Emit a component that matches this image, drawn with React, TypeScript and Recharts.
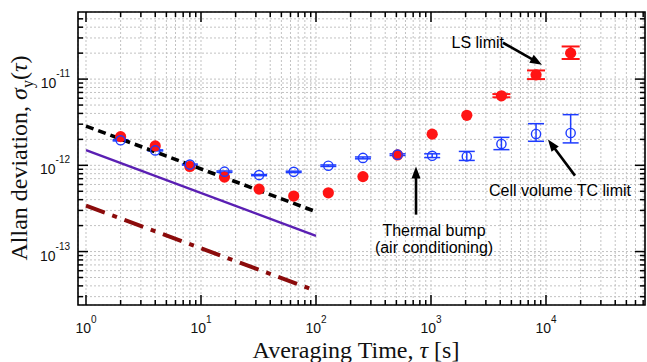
import React from "react";
import {
  ScatterChart,
  Scatter,
  XAxis,
  YAxis,
  CartesianGrid,
  ErrorBar,
  ReferenceArea,
  ReferenceLine,
} from "recharts";

// averaging times of the measured points
const TAU = [2, 4, 8, 16, 32, 64, 128, 256, 512, 1024, 2048, 4096, 8192, 16384];

// filled red circles
const RED = [
  2.15e-12, 1.68e-12, 0.97e-12, 7.3e-13, 5.3e-13, 4.4e-13, 4.8e-13,
  7.4e-13, 1.32e-12, 2.3e-12, 3.8e-12, 6.4e-12, 1.12e-11, 2.0e-11,
];
// null = error bar hidden inside the marker
const RED_ERR: ([number, number] | null)[] = [
  null, null, null, null, null, null, null,
  null, null, null, null, [0.25e-12, 0.3e-12], [1.2e-12, 1.4e-12], [2.9e-12, 3.9e-12],
];

// open blue circles
const BLUE = [
  1.95e-12, 1.49e-12, 1.02e-12, 8.45e-13, 7.7e-13, 8.4e-13, 9.9e-13,
  1.22e-12, 1.33e-12, 1.29e-12, 1.27e-12, 1.77e-12, 2.31e-12, 2.37e-12,
];
const BLUE_ERR: [number, number][] = [
  [0.03e-12, 0.03e-12], [0.02e-12, 0.02e-12], [0.015e-12, 0.015e-12], [0.015e-12, 0.015e-12],
  [0.012e-12, 0.012e-12], [0.015e-12, 0.015e-12], [0.02e-12, 0.02e-12], [0.03e-12, 0.03e-12],
  [0.03e-12, 0.03e-12], [0.06e-12, 0.07e-12], [0.13e-12, 0.18e-12], [0.25e-12, 0.34e-12],
  [0.41e-12, 0.73e-12], [0.55e-12, 1.5e-12],
];

// tau^-1/2 reference lines, given at tau = 1 and tau = 100
const FIT_TAU = [1, 100];
const FIT_BLACK = [2.85e-12, 2.9e-13];
const FIT_PURPLE = [1.5e-12, 1.52e-13];
const FIT_DARKRED = [3.4e-13, 3.5e-14];

// axes
const X_DOMAIN = [0.852, 72600];
const Y_DOMAIN = [2.4e-14, 6e-11];
const MANTISSA = [1, 2, 3, 4, 5, 6, 7, 8, 9];
const X_DECADES = [1, 10, 100, 1000, 10000];
const X_EXP = ["0", "1", "2", "3", "4"];
const Y_DECADES = [1e-14, 1e-13, 1e-12, 1e-11];
const Y_EXP = ["-14", "-13", "-12", "-11"];

const X_TICKS = X_DECADES.flatMap((d) => MANTISSA.map((m) => m * d)).filter(
  (v) => v > X_DOMAIN[0] && v < X_DOMAIN[1]
);
const Y_TICKS = Y_DECADES.flatMap((d) => MANTISSA.map((m) => m * d)).filter(
  (v) => v > Y_DOMAIN[0] && v < Y_DOMAIN[1] * 0.99
);

// annotation arrows (tail -> head, data coordinates)
const NOTES = [
  { text: ["LS limit"], tail: { x: 4227, y: 2.64e-11 }, head: { x: 9230, y: 1.47e-11 }, dx: 1, dy: 5, anchor: "end" },
  { text: ["Thermal bump", "(air conditioning)"], tail: { x: 741, y: 2.68e-13 }, head: { x: 741, y: 0.97e-12 }, dx: 18, dy: 21, anchor: "middle" },
  { text: ["Cell volume TC limit"], tail: { x: 17870, y: 7.6e-13 }, head: { x: 10400, y: 1.99e-12 }, dx: -15, dy: 20, anchor: "middle" },
];

const W = 647;
const H = 362;
const MARGIN = { top: 12, right: 2, bottom: 0, left: 0 };
const Y_AXIS_W = 78;
const X_AXIS_H = 57;
const PLOT = {
  left: MARGIN.left + Y_AXIS_W,
  right: W - MARGIN.right,
  top: MARGIN.top,
  bottom: H - MARGIN.bottom - X_AXIS_H,
};

const SANS = "'Liberation Sans', Arial, Helvetica, sans-serif";
const SERIF = "'Liberation Serif', 'Times New Roman', Times, serif";

const redData = TAU.map((x, i) => ({ x, y: RED[i] }));
const redErrData = TAU.map((x, i) => ({ x, y: RED[i], err: RED_ERR[i] })).filter((d) => d.err);
const blueData = TAU.map((x, i) => ({ x, y: BLUE[i], err: BLUE_ERR[i] }));
const fit = (vals: number[]) => FIT_TAU.map((x, i) => ({ x, y: vals[i] }));

function decadeIndex(list: number[], v: number) {
  return list.findIndex((d) => Math.abs(d - v) / d < 1e-6);
}

/* eslint-disable @typescript-eslint/no-explicit-any */
function XTick(props: any) {
  const { x, payload } = props;
  const idx = decadeIndex(X_DECADES, payload.value);
  const len = idx >= 0 ? 10 : 5;
  return (
    <g>
      <line x1={x} x2={x} y1={PLOT.bottom} y2={PLOT.bottom - len} stroke="#000" strokeWidth={1.5} />
      <line x1={x} x2={x} y1={PLOT.top} y2={PLOT.top + len} stroke="#000" strokeWidth={1.5} />
      {idx >= 0 && (
        <text x={x} y={PLOT.bottom + 28} textAnchor="middle" fontFamily={SANS} fontSize={14} fill="#111">
          <tspan>10</tspan>
          <tspan dy={-10} fontSize={10}>{X_EXP[idx]}</tspan>
        </text>
      )}
    </g>
  );
}

function YTick(props: any) {
  const { y, payload } = props;
  const idx = decadeIndex(Y_DECADES, payload.value);
  const len = idx >= 0 ? 10 : 5;
  return (
    <g>
      <line x1={PLOT.left} x2={PLOT.left + len} y1={y} y2={y} stroke="#000" strokeWidth={1.5} />
      <line x1={PLOT.right} x2={PLOT.right - len} y1={y} y2={y} stroke="#000" strokeWidth={1.5} />
      {idx >= 0 && (
        <text x={PLOT.left - 8} y={y + 9} textAnchor="end" fontFamily={SANS} fontSize={14} fill="#111">
          <tspan>10</tspan>
          <tspan dy={-11} fontSize={10}>{Y_EXP[idx]}</tspan>
        </text>
      )}
    </g>
  );
}

function XTitle() {
  return (
    <text x={356} y={H - 4} textAnchor="middle" fontFamily={SERIF} fontSize={24} fill="#111">
      Averaging Time, <tspan fontStyle="italic">τ</tspan> [s]
    </text>
  );
}

function YTitle() {
  const cx = 27;
  const cy = 158;
  return (
    <text x={cx} y={cy} textAnchor="middle" fontFamily={SERIF} fontSize={24} fill="#111" transform={`rotate(-90 ${cx} ${cy})`}>
      Allan deviation, <tspan fontStyle="italic">σ</tspan>
      <tspan dy={6} fontSize={16}>y</tspan>
      <tspan dy={-6}>(</tspan>
      <tspan fontStyle="italic">τ</tspan>)
    </text>
  );
}

function Arrow(note: any) {
  return function ArrowShape(p: any) {
    const { x1, y1, x2, y2 } = p;
    const len = Math.hypot(x2 - x1, y2 - y1) || 1;
    const ux = (x2 - x1) / len;
    const uy = (y2 - y1) / len;
    const hl = 12;
    const hw = 4.5;
    const bx = x2 - ux * hl;
    const by = y2 - uy * hl;
    return (
      <g>
        <line x1={x1} y1={y1} x2={bx + ux * 2} y2={by + uy * 2} stroke="#000" strokeWidth={2.6} />
        <polygon
          points={`${x2},${y2} ${bx - uy * hw},${by + ux * hw} ${bx + uy * hw},${by - ux * hw}`}
          fill="#000"
        />
        <text x={x1 + note.dx} y={y1 + note.dy} textAnchor={note.anchor} fontFamily={SANS} fontSize={16} fill="#000">
          {note.text.map((t: string, i: number) => (
            <tspan key={i} x={x1 + note.dx} dy={i === 0 ? 0 : 17}>
              {t}
            </tspan>
          ))}
        </text>
      </g>
    );
  };
}

const RedDot = (p: any) => <circle cx={p.cx} cy={p.cy} r={5.6} fill="#ff1414" />;
const BlueRing = (p: any) => <circle cx={p.cx} cy={p.cy} r={4.6} fill="none" stroke="#1e3cff" strokeWidth={1.4} />;
const NoShape = () => <g />;
/* eslint-enable @typescript-eslint/no-explicit-any */

export default function App() {
  return (
    <div style={{ position: "absolute", left: 0, top: 0, width: W, height: H, background: "#fff" }}>
      <ScatterChart width={W} height={H} margin={MARGIN}>
        <CartesianGrid stroke="#c2c2c2" strokeDasharray="2 2" />
        <XAxis
          type="number"
          dataKey="x"
          scale="log"
          domain={X_DOMAIN}
          allowDataOverflow
          ticks={X_TICKS}
          interval={0}
          height={X_AXIS_H}
          axisLine={false}
          tickLine={false}
          tick={<XTick />}
          label={() => <XTitle />}
        />
        <YAxis
          type="number"
          dataKey="y"
          scale="log"
          domain={Y_DOMAIN}
          allowDataOverflow
          ticks={Y_TICKS}
          interval={0}
          width={Y_AXIS_W}
          axisLine={false}
          tickLine={false}
          tick={<YTick />}
          label={() => <YTitle />}
        />
        <ReferenceArea
          x1={X_DOMAIN[0]}
          x2={X_DOMAIN[1]}
          y1={Y_DOMAIN[0]}
          y2={Y_DOMAIN[1]}
          fill="none"
          fillOpacity={0}
          stroke="#000"
          strokeWidth={1.6}
          ifOverflow="visible"
        />
        <Scatter
          data={fit(FIT_DARKRED)}
          line={{ stroke: "#8b0b0b", strokeWidth: 4, strokeDasharray: "20 8 5 8" }}
          shape={NoShape}
          isAnimationActive={false}
        />
        <Scatter
          data={fit(FIT_PURPLE)}
          line={{ stroke: "#5a1fb3", strokeWidth: 2.4 }}
          shape={NoShape}
          isAnimationActive={false}
        />
        <Scatter
          data={fit(FIT_BLACK)}
          line={{ stroke: "#000", strokeWidth: 3.6, strokeDasharray: "8 5" }}
          shape={NoShape}
          isAnimationActive={false}
        />
        <Scatter data={redErrData} shape={NoShape} isAnimationActive={false}>
          <ErrorBar dataKey="err" direction="y" width={9} stroke="#ff1414" strokeWidth={2} isAnimationActive={false} />
        </Scatter>
        <Scatter data={redData} shape={RedDot} isAnimationActive={false} />
        <Scatter data={blueData} shape={BlueRing} isAnimationActive={false}>
          <ErrorBar dataKey="err" direction="y" width={8} stroke="#1e3cff" strokeWidth={1.5} isAnimationActive={false} />
        </Scatter>
        {NOTES.map((n, i) => (
          <ReferenceLine
            key={i}
            segment={[n.tail, n.head]}
            ifOverflow="visible"
            shape={Arrow(n)}
          />
        ))}
      </ScatterChart>
    </div>
  );
}
